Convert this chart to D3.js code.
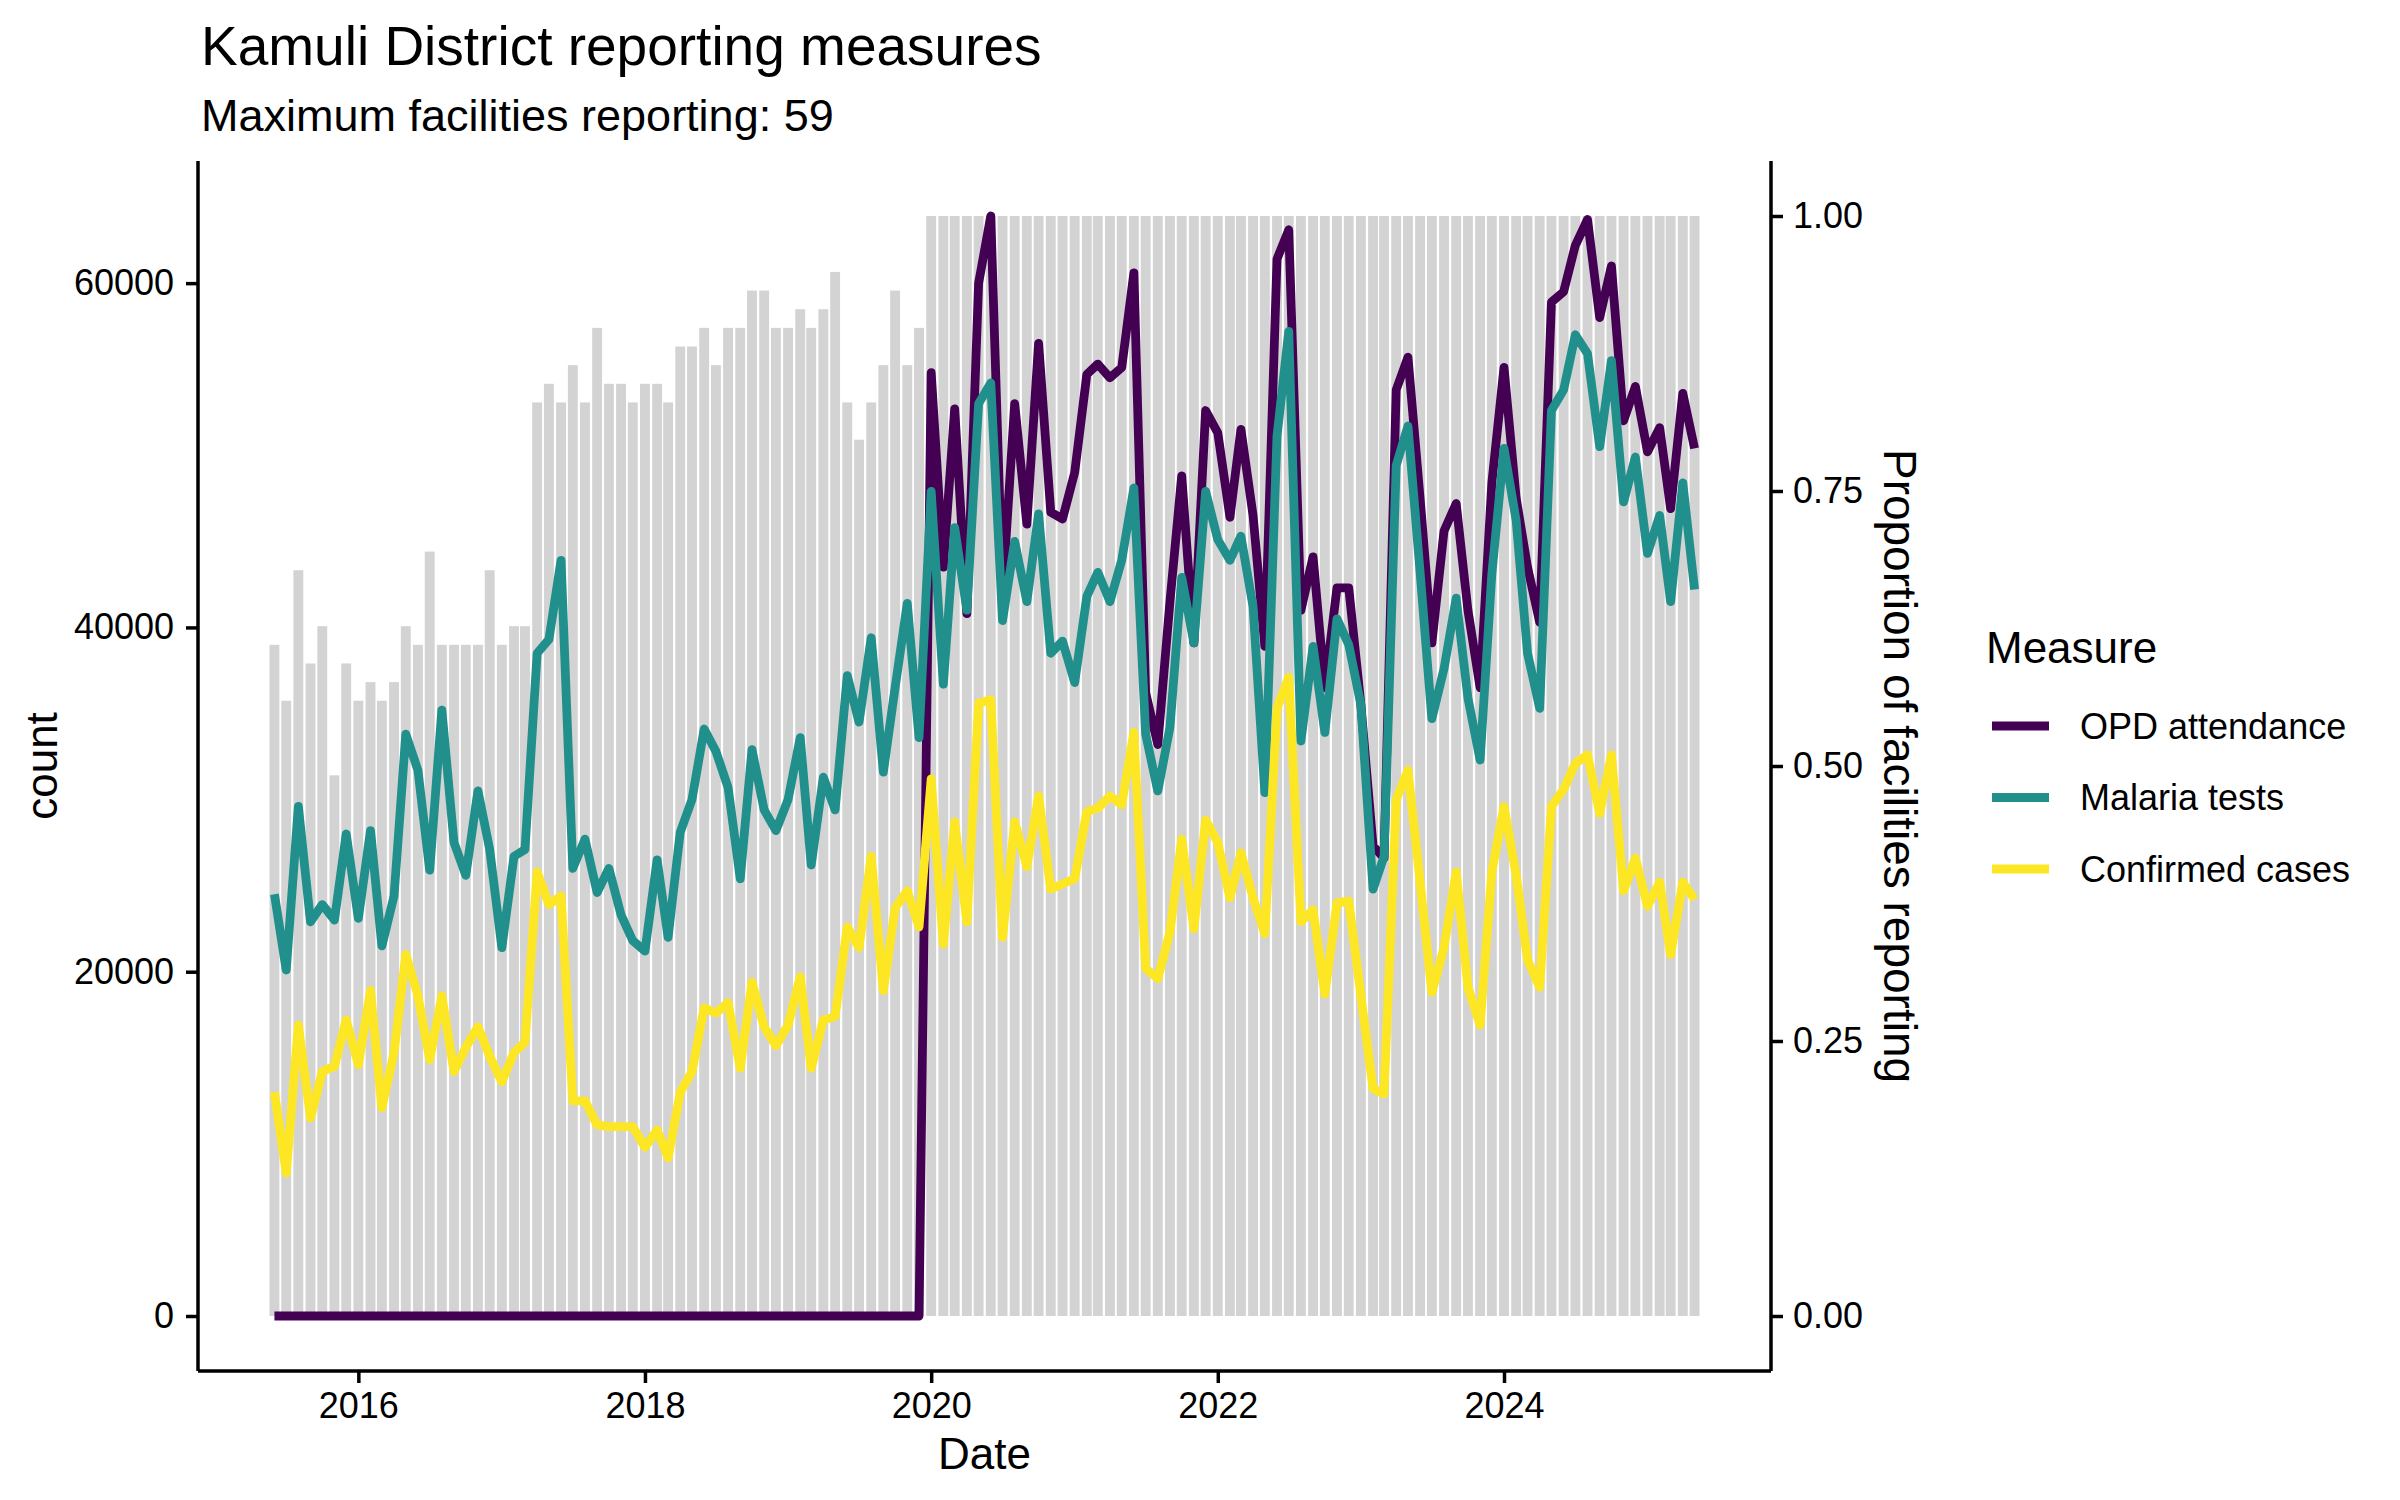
<!DOCTYPE html>
<html>
<head>
<meta charset="utf-8">
<script src="https://cdn.jsdelivr.net/npm/d3@7"></script>
<style>
  body { margin: 0; background: white; }
  text { font-family: "Liberation Sans", Arial, Helvetica, sans-serif; }
</style>
</head>
<body>
<svg id="chart" width="2400" height="1500"></svg>
<script>
// monthly series, first month June 2015
var firstMonth = "2015-06-01";
var maxFacilities = 59;

var facilities = [36, 33, 40, 35, 37, 29, 35, 33, 34, 33, 34, 37, 36, 41, 36, 36, 36, 36, 40, 36,
    37, 37, 49, 50, 49, 51, 49, 53, 50, 50, 49, 50, 50, 49, 52, 52, 53, 51, 53, 53,
    55, 55, 53, 53, 54, 53, 54, 56, 49, 47, 49, 51, 55, 51, 53, 59, 59, 59, 59, 59,
    59, 59, 59, 59, 59, 59, 59, 59, 59, 59, 59, 59, 59, 59, 59, 59, 59, 59, 59, 59,
    59, 59, 59, 59, 59, 59, 59, 59, 59, 59, 59, 59, 59, 59, 59, 59, 59, 59, 59, 59,
    59, 59, 59, 59, 59, 59, 59, 59, 59, 59, 59, 59, 59, 59, 59, 59, 59, 59, 59, 59];

var opd = [0, 0, 0, 0, 0, 0, 0, 0, 0, 0, 0, 0, 0, 0, 0, 0, 0, 0, 0, 0,
    0, 0, 0, 0, 0, 0, 0, 0, 0, 0, 0, 0, 0, 0, 0, 0, 0, 0, 0, 0,
    0, 0, 0, 0, 0, 0, 0, 0, 0, 0, 0, 0, 0, 0, 0, 54800, 43500, 52700, 40800, 60000,
    63900, 42000, 53000, 46000, 56500, 46700, 46300, 49000, 54700, 55300, 54500, 55100, 60600, 36200, 33200, 41500, 48800, 39100, 52600, 51300,
    46400, 51500, 46500, 38900, 61400, 63100, 41000, 44100, 36500, 42300, 42300, 35500, 27300, 26600, 53800, 55700, 47500, 39100, 45600, 47200,
    41000, 36500, 48400, 55100, 47500, 43500, 40300, 58900, 59500, 62200, 63700, 58000, 61000, 52000, 54000, 50200, 51600, 46900, 53600, 50400];

var malaria = [24500, 20100, 29600, 22900, 23900, 23000, 28000, 23100, 28200, 21500, 24400, 33800, 31700, 25900, 35200, 27500, 25600, 30500, 27100, 21400,
    26700, 27100, 38500, 39300, 43900, 26000, 27700, 24600, 26000, 23300, 21800, 21200, 26500, 22000, 28100, 30000, 34100, 32800, 30700, 25400,
    32900, 29400, 28200, 30000, 33600, 26200, 31300, 29400, 37200, 34500, 39400, 31600, 36500, 41400, 33600, 47900, 36700, 45800, 41000, 53000,
    54200, 40400, 45000, 41500, 46600, 38500, 39200, 36800, 41800, 43200, 41500, 43900, 48100, 33800, 30500, 34200, 42900, 39100, 47900, 45100,
    43900, 45300, 41200, 30400, 51100, 57200, 33400, 38900, 33900, 40500, 39000, 35500, 24800, 26700, 49400, 51700, 43200, 34700, 37600, 41700,
    35900, 32300, 43100, 50400, 46200, 38500, 35300, 52600, 53800, 57000, 55900, 50500, 55500, 47300, 49900, 44300, 46500, 41500, 48400, 42200];

var confirmed = [13000, 8300, 16900, 11500, 14200, 14500, 17200, 14600, 18900, 12100, 15300, 21000, 18600, 14900, 18600, 14200, 15600, 16800, 15100, 13600,
    15300, 15900, 25800, 23900, 24400, 12500, 12500, 11100, 11000, 11000, 11000, 9800, 10800, 9200, 13000, 14200, 17900, 17600, 18200, 14400,
    19400, 16800, 15700, 16900, 19700, 14400, 17200, 17400, 22600, 21400, 26700, 18900, 23700, 24700, 22600, 31200, 21600, 28700, 22900, 35600,
    35800, 22000, 28700, 26100, 30200, 24800, 25100, 25400, 29300, 29500, 30200, 29700, 33900, 20200, 19600, 22300, 27700, 22500, 28800, 27500,
    24300, 26900, 24300, 22200, 35300, 37100, 22900, 23600, 18700, 24000, 24100, 18600, 13200, 12900, 30000, 31700, 25200, 18800, 21400, 25800,
    19100, 16900, 25800, 29600, 25600, 20700, 19100, 29600, 30600, 32100, 32600, 29200, 32600, 24700, 26600, 23800, 25200, 21000, 25200, 24200];

var measures = ["OPD attendance", "Malaria tests", "Confirmed cases"];
var colors = ["#440154", "#21908C", "#FDE725"];
var countTicks = [0, 20000, 40000, 60000];
var propTicks = [0, 0.25, 0.5, 0.75, 1];
var yearTicks = ["2016-01-01", "2018-01-01", "2020-01-01", "2022-01-01", "2024-01-01"];

var series = [opd, malaria, confirmed];
var start = new Date(firstMonth);
var dates = d3.utcMonth.range(start, d3.utcMonth.offset(start, opd.length));

var svg = d3.select("#chart");

var panel = { left: 198, right: 1771, top: 161, bottom: 1371 };

var maxCount = d3.max(series, s => d3.max(s));
var halfBar = 12.6 * 864e5;

var xMin = +dates[0] - halfBar, xMax = +dates[dates.length - 1] + halfBar;
var xPad = (xMax - xMin) * 0.05;
var x = d3.scaleUtc()
    .domain([new Date(xMin - xPad), new Date(xMax + xPad)])
    .range([panel.left, panel.right]);

var y = d3.scaleLinear()
    .domain([-maxCount * 0.05, maxCount * 1.05])
    .range([panel.bottom, panel.top]);

var barW = x(new Date(+dates[0] + halfBar)) - x(dates[0]);

// bars: share of facilities reporting, drawn on the count scale
svg.append("g")
    .selectAll("rect")
    .data(facilities)
    .enter()
    .append("rect")
    .attr("x", (d, i) => x(dates[i]) - barW)
    .attr("y", d => y(d / maxFacilities * maxCount))
    .attr("width", barW * 2)
    .attr("height", d => y(0) - y(d / maxFacilities * maxCount))
    .attr("fill", "#D3D3D3");

var line = d3.line()
    .x((d, i) => x(dates[i]))
    .y(d => y(d));

svg.append("g")
    .selectAll("path")
    .data(series)
    .enter()
    .append("path")
    .attr("d", line)
    .attr("fill", "none")
    .attr("stroke", (d, i) => colors[i])
    .attr("stroke-width", 8.8)
    .attr("stroke-linejoin", "round");

// axes
var axisL = svg.append("g")
    .attr("transform", "translate(" + panel.left + ",0)")
    .call(d3.axisLeft(y).tickValues(countTicks).tickFormat(d3.format("d")).tickSize(12).tickPadding(12));

var axisR = svg.append("g")
    .attr("transform", "translate(" + panel.right + ",0)")
    .call(d3.axisRight(y).tickValues(propTicks.map(p => p * maxCount))
        .tickFormat((d, i) => d3.format(".2f")(propTicks[i])).tickSize(12).tickPadding(10));

var axisB = svg.append("g")
    .attr("transform", "translate(0," + panel.bottom + ")")
    .call(d3.axisBottom(x).tickValues(yearTicks.map(d => new Date(d)))
        .tickFormat(d3.utcFormat("%Y")).tickSize(12).tickPadding(9));

[axisL, axisR, axisB].forEach(function(a) {
    a.select(".domain").attr("stroke", "black").attr("stroke-width", 3.5);
    a.selectAll(".tick line").attr("stroke", "black").attr("stroke-width", 3.5);
    a.selectAll(".tick text").attr("fill", "black").style("font-size", "36px");
});
axisL.select(".domain").attr("d", "M0," + panel.top + "V" + panel.bottom);
axisR.select(".domain").attr("d", "M0," + panel.top + "V" + panel.bottom);
axisB.select(".domain").attr("d", "M" + panel.left + ",0H" + panel.right);

// titles
svg.append("text")
    .attr("x", 201)
    .attr("y", 65)
    .style("font-size", "55px")
    .text("Kamuli District reporting measures");

svg.append("text")
    .attr("x", 201)
    .attr("y", 131)
    .style("font-size", "45px")
    .text("Maximum facilities reporting: " + maxFacilities);

svg.append("text")
    .attr("x", (panel.left + panel.right) / 2)
    .attr("y", 1469)
    .attr("text-anchor", "middle")
    .style("font-size", "44px")
    .text("Date");

svg.append("text")
    .attr("transform", "translate(57," + (panel.top + panel.bottom) / 2 + ") rotate(-90)")
    .attr("text-anchor", "middle")
    .style("font-size", "44px")
    .text("count");

svg.append("text")
    .attr("transform", "translate(1884," + (panel.top + panel.bottom) / 2 + ") rotate(90)")
    .attr("text-anchor", "middle")
    .style("font-size", "46px")
    .text("Proportion of facilities reporting");

// legend
var legend = svg.append("g")
    .attr("transform", "translate(1986,0)");

legend.append("text")
    .attr("x", 0)
    .attr("y", 663)
    .style("font-size", "44px")
    .text("Measure");

var keys = legend.selectAll("g.key")
    .data(measures)
    .enter()
    .append("g")
    .attr("class", "key")
    .attr("transform", (d, i) => "translate(0," + (726 + i * 71.5) + ")");

keys.append("line")
    .attr("x1", 6)
    .attr("x2", 63)
    .attr("stroke", (d, i) => colors[i])
    .attr("stroke-width", 8.8);

keys.append("text")
    .attr("x", 94)
    .attr("dy", "0.35em")
    .style("font-size", "36px")
    .text(d => d);
</script>
</body>
</html>
